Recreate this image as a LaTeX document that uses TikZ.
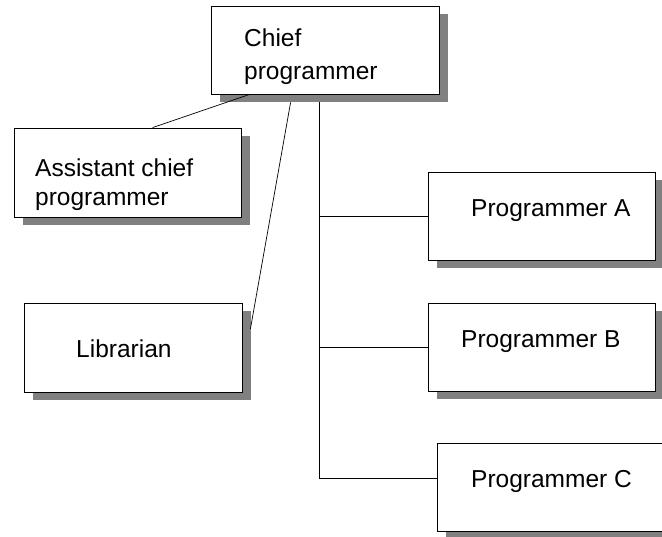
\documentclass[tikz,border=0pt]{standalone}
\usepackage{fontspec}
\setmainfont{Liberation Sans}
\usetikzlibrary{shadows}
\begin{document}
\begin{tikzpicture}[x=1pt, y=-1pt,
  box/.style={draw, line width=0.8pt, fill=white, inner sep=0pt, minimum width=227pt, minimum height=88pt,
    drop shadow={shadow xshift=9pt, shadow yshift=-8pt, fill=black!50, opacity=1}},
  txt/.style={anchor=base west, inner sep=0pt, align=left, font=\fontsize{24.5}{29}\selectfont},
  link/.style={line width=0.7pt}]
\useasboundingbox (0,0) rectangle (662,537);
\node[box, minimum width=228pt] (chief) at (325,50){};
\node[box, minimum height=89pt] (asst) at (127.5,172.5){};
\node[box, minimum width=218pt, minimum height=89pt] (lib) at (133,347.5){};
\node[box] (progA) at (541.5,216){};
\node[box] (progB) at (541.5,347){};
\node[box] (progC) at (550.5,487){};
\node[txt] (chiefT) at (244,80){Chief\\[4pt]programmer};
\node[txt] (asstT) at (35,206){Assistant chief\\programmer};
\node[txt] (libT) at (76,358){Librarian};
\node[txt] (progAT) at (471,217){Programmer A};
\node[txt] (progBT) at (461,348){Programmer B};
\node[txt] (progCT) at (471,488){Programmer C};
\coordinate (trunk) at ([xshift=108.5pt, yshift=-8pt]chief.south west);
\draw[link] ([xshift=39pt]chief.south west) -- ([xshift=139pt]asst.north west);
\draw[link] ([xshift=80pt, yshift=-8pt]chief.south west) -- ([xshift=8pt, yshift=18.5pt]lib.east);
\draw[link] (trunk) |- ([yshift=9pt]progC.west);
\draw[link] (trunk |- progA.west) -- (progA.west);
\draw[link] (trunk |- progB.west) -- (progB.west);
\end{tikzpicture}
\end{document}
